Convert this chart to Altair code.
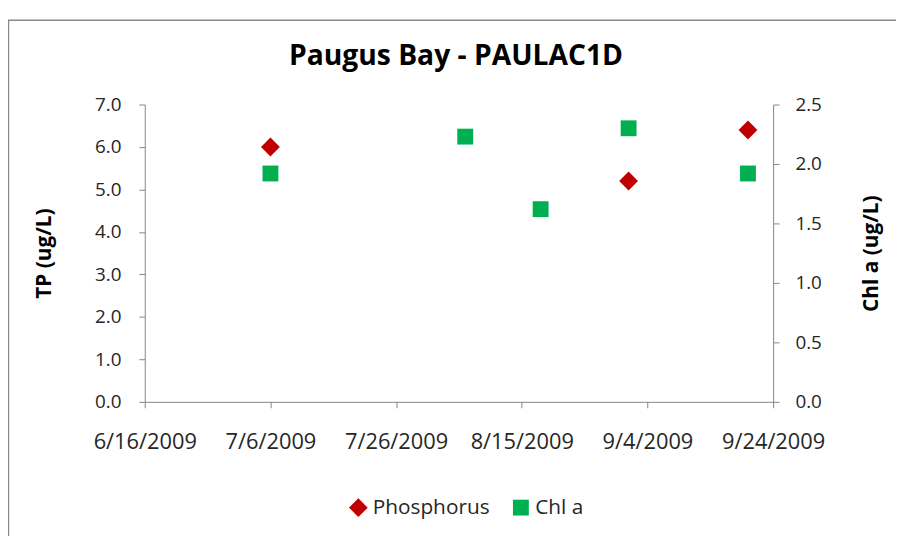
import altair as alt
import pandas as pd

chart_title = "Paugus Bay - PAULAC1D"
series_names = ["Phosphorus", "Chl a"]
series_colors = ["#C00000", "#00B050"]
series_shapes = ["diamond", "square"]
series_sizes = [361, 256]

tp_dates = ["2009-07-06", "2009-09-01", "2009-09-20"]
tp_values = [6.0, 5.2, 6.4]

chl_dates = ["2009-07-06", "2009-08-06", "2009-08-18", "2009-09-01", "2009-09-20"]
chl_values = [1.92, 2.23, 1.62, 2.30, 1.92]

x_tick_dates = [(2009, 6, 16), (2009, 7, 6), (2009, 7, 26), (2009, 8, 15), (2009, 9, 4), (2009, 9, 24)]
tp_ticks = [0, 1, 2, 3, 4, 5, 6, 7]
chl_ticks = [0, 0.5, 1.0, 1.5, 2.0, 2.5]

FONT = "Open Sans"
AX = "#868686"
TXT = "#262626"


def dt(y, m, d):
    return alt.DateTime(year=y, month=m, date=d, utc=True)


tp_df = pd.DataFrame({"date": tp_dates, "value": tp_values, "series": [series_names[0]] * len(tp_dates)})
chl_df = pd.DataFrame({"date": chl_dates, "value": chl_values, "series": [series_names[1]] * len(chl_dates)})

x_enc = alt.X(
    "date:T",
    scale=alt.Scale(type="utc", domain=[dt(*x_tick_dates[0]), dt(*x_tick_dates[-1])]),
    axis=alt.Axis(
        values=[dt(*d) for d in x_tick_dates],
        labelExpr="utcFormat(datum.value, '%-m/%-d/%Y')",
        title=None,
        grid=False,
        labelFlush=False,
        labelOverlap=False,
        labelPadding=24,
        labelFontSize=22,
        tickSize=6,
    ),
)

legend = alt.Legend(
    title=None,
    orient="none",
    legendX=205,
    legendY=396,
    direction="horizontal",
    labelFont=FONT,
    labelFontSize=21,
    labelColor=TXT,
    columnPadding=21,
    labelOffset=4,
    symbolStrokeWidth=0,
    padding=0,
)

color_enc = alt.Color("series:N", scale=alt.Scale(domain=series_names, range=series_colors), legend=legend)
shape_enc = alt.Shape("series:N", scale=alt.Scale(domain=series_names, range=series_shapes), legend=legend)
size_enc = alt.Size("series:N", scale=alt.Scale(domain=series_names, range=series_sizes), legend=legend)

tp_layer = alt.Chart(tp_df).mark_point(filled=True, opacity=1, strokeWidth=0).encode(
    x=x_enc,
    y=alt.Y(
        "value:Q",
        scale=alt.Scale(domain=[0, 7], nice=False),
        axis=alt.Axis(
            orient="left",
            values=tp_ticks,
            format=".1f",
            title="TP (ug/L)",
            grid=False,
            tickSize=6,
            labelPadding=18,
            labelFontSize=19,
            titlePadding=40,
        ),
    ),
    color=color_enc,
    shape=shape_enc,
    size=size_enc,
)

chl_layer = alt.Chart(chl_df).mark_point(filled=True, opacity=1, strokeWidth=0).encode(
    x=x_enc,
    y=alt.Y(
        "value:Q",
        scale=alt.Scale(domain=[0, 2.5], nice=False),
        axis=alt.Axis(
            orient="right",
            values=chl_ticks,
            format=".1f",
            title="Chl a (ug/L)",
            grid=False,
            tickSize=6,
            labelPadding=16,
            labelFontSize=19,
            titlePadding=61,
            titleAngle=270,
        ),
    ),
    color=color_enc,
    shape=shape_enc,
    size=size_enc,
)

frame = alt.Chart(pd.DataFrame({"k": [0]})).mark_rect(
    fillOpacity=0, stroke="#8a8a8a", strokeWidth=1.5
).encode(x=alt.value(-137.5), x2=alt.value(800), y=alt.value(-85), y2=alt.value(500))

title_text = alt.Chart(pd.DataFrame({"t": [chart_title]})).mark_text(
    font=FONT, fontSize=28.5, fontWeight="bold", color="black", align="center", baseline="alphabetic"
).encode(text="t:N", x=alt.value(314), y=alt.value(-40))

chart = (
    alt.layer(frame, title_text, tp_layer, chl_layer)
    .resolve_scale(y="independent")
    .properties(
        width=634,
        height=300,
        autosize=alt.AutoSizeParams(type="none"),
        padding={"left": 138, "top": 95, "right": 124, "bottom": 133},
        background="white",
    )
    .configure_view(stroke=None)
    .configure_axis(
        domainColor=AX,
        tickColor=AX,
        labelFont=FONT,
        labelFontSize=20,
        labelColor=TXT,
        titleFont=FONT,
        titleFontSize=21,
        titleFontWeight="bold",
        titleColor="black",
    )
)

chart.save("out.html", embed_options={"renderer": "svg", "actions": False})
